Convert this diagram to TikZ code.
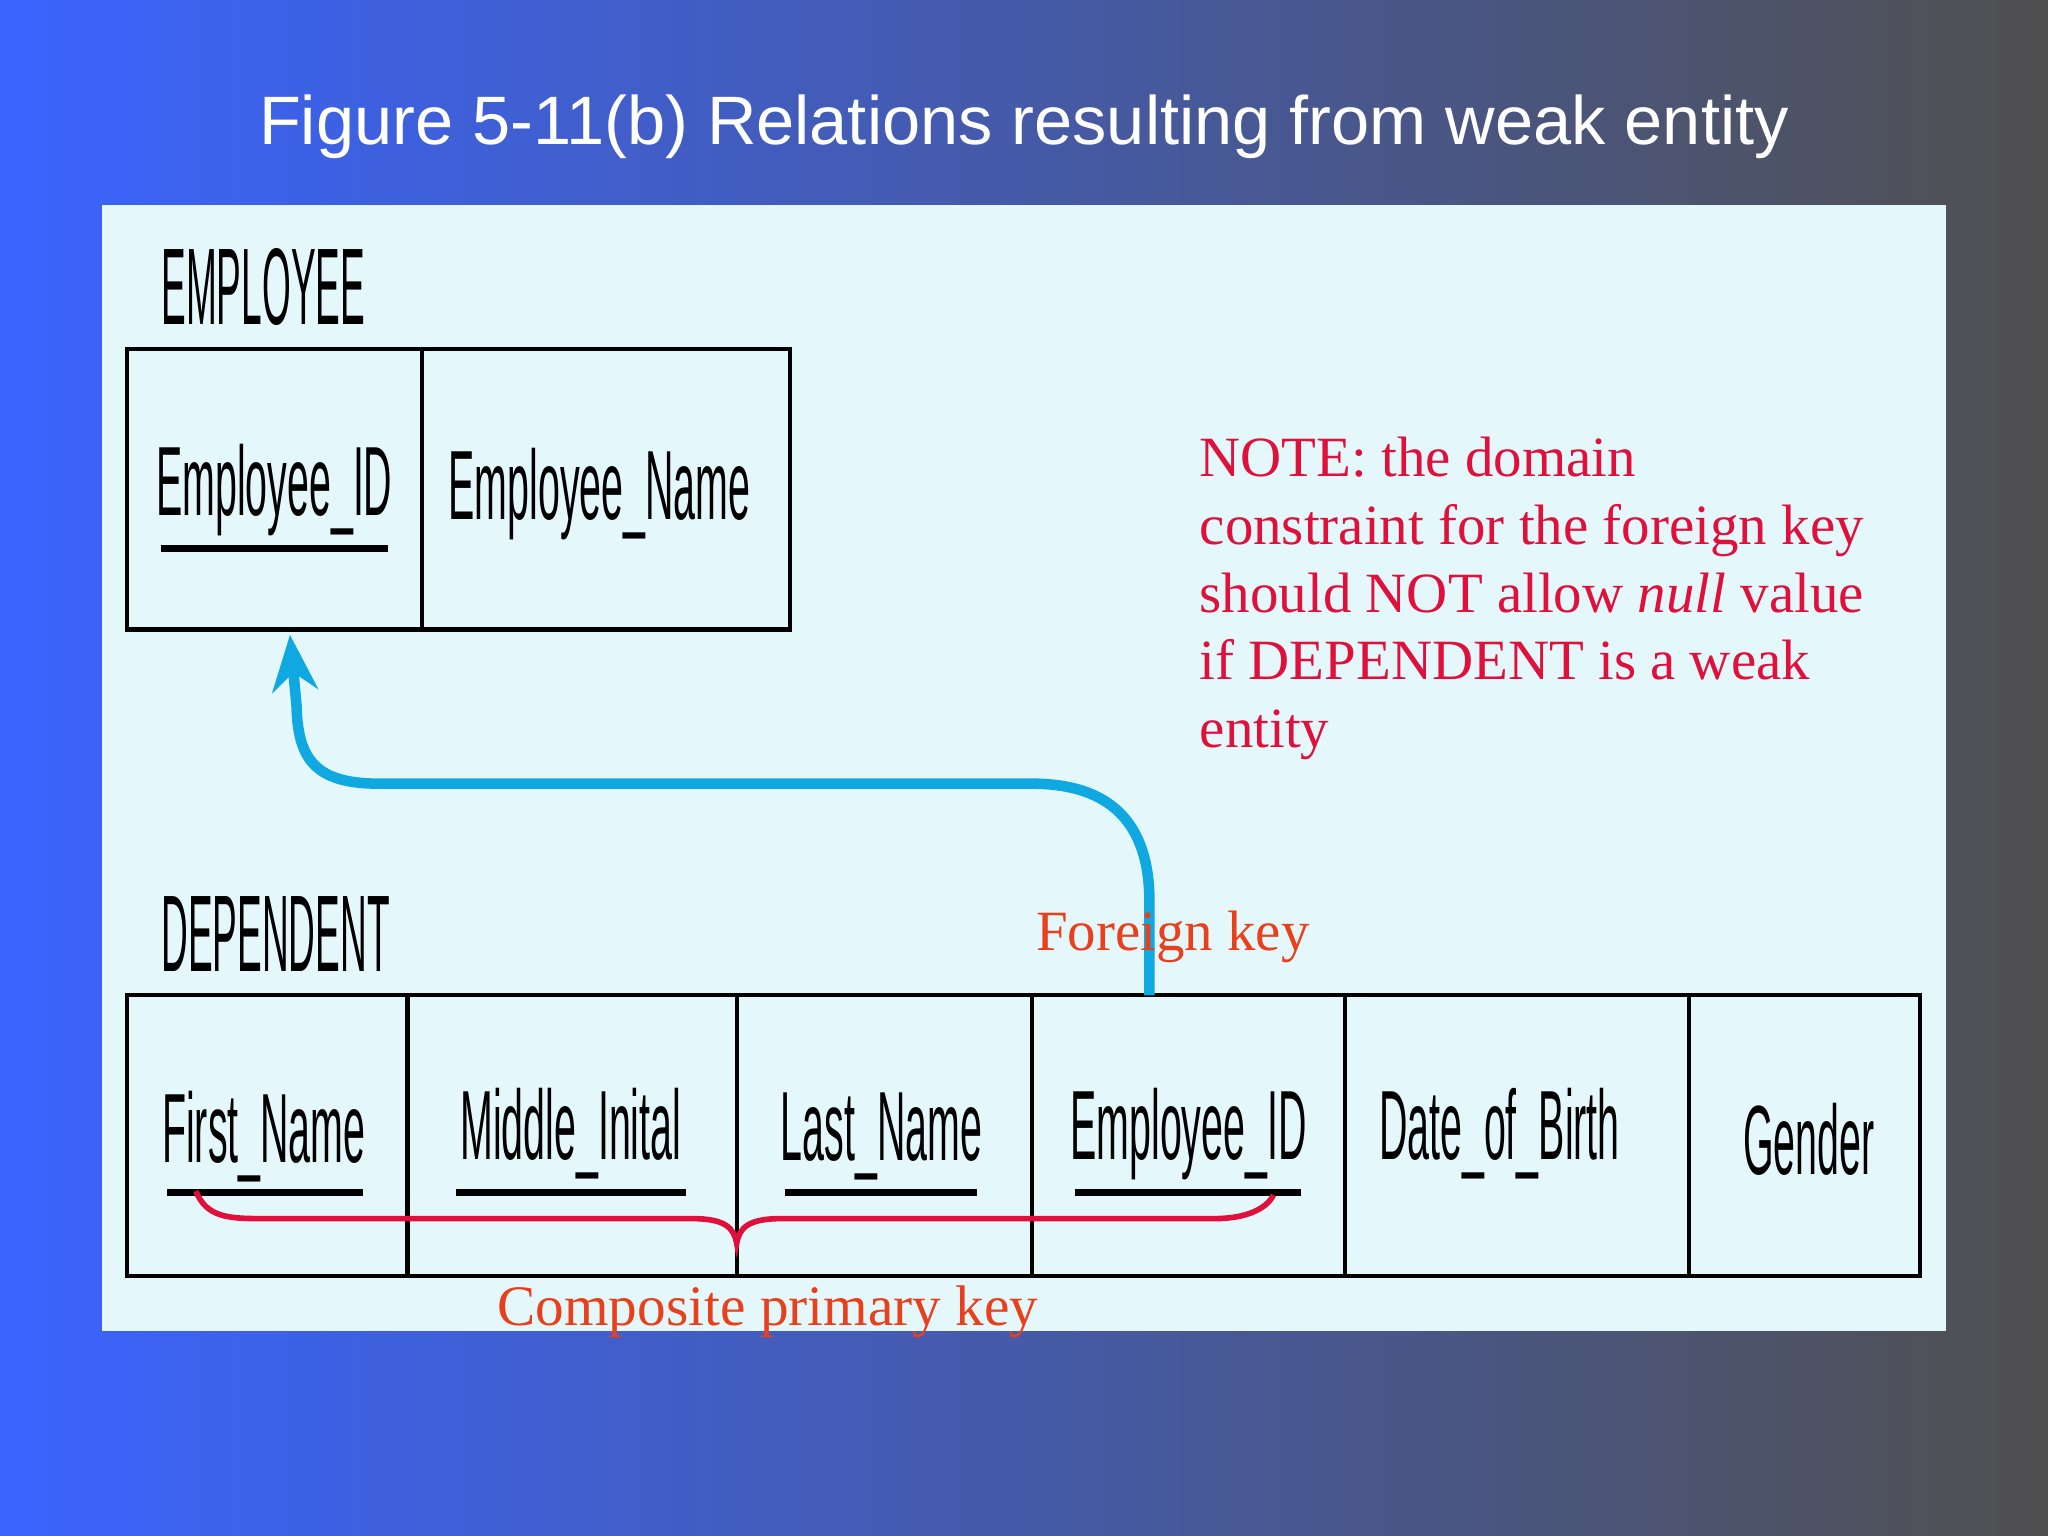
\documentclass[tikz,border=0pt]{standalone}
\usepackage{fontspec}
\setmainfont{Liberation Serif}
\newfontfamily\ttl{Liberation Sans}
\usepackage{graphicx}
\usetikzlibrary{arrows.meta}
\definecolor{panel}{HTML}{E4F8FC}
\definecolor{fk}{HTML}{10A8E0}
\definecolor{lab}{HTML}{E8401C}
\definecolor{note}{HTML}{E0103C}
\newcommand{\cnd}[3]{\scalebox{#1}[1]{\ttl\fontsize{#2}{#2}\selectfont #3}}
\tikzset{cell/.style={draw=black,line width=1.2pt},
  ul/.style={line width=1.8pt},
  ctext/.style={inner sep=0pt,anchor=center}}
\begin{document}
\begin{tikzpicture}[x=0.01306cm,y=-0.01306cm]
\useasboundingbox (0,0) rectangle (1568,1176);
\shade[left color={rgb,255:red,58;green,100;blue,255},right color={rgb,255:red,80;green,80;blue,80}] (0,0) rectangle (1568,1176);
\node[text=white,font=\ttl\fontsize{19.5}{21}\selectfont] (title) at (784,97) {Figure 5-11(b) Relations resulting from weak entity};
\fill[panel] (78,157) rectangle (1490,1019);
% EMPLOYEE
\node[anchor=west,inner sep=0pt] (emp) at (123,220) {\cnd{0.34}{31}{EMPLOYEE}};
\draw[cell] (97,267) rectangle (605,482);
\draw[cell] (323,267) -- (323,482);
\node[ctext] (eid) at (210,375) {\cnd{0.40}{28}{Employee\_ID}};
\node[ctext] (ename) at (459,378) {\cnd{0.40}{28}{Employee\_Name}};
\draw[ul] (123,420) -- (297,420);
% DEPENDENT
\node[anchor=west,inner sep=0pt] (dep) at (123,715) {\cnd{0.34}{31}{DEPENDENT}};
\draw[cell] (97,762) rectangle (1470,977);
\foreach \x in {312,564,790,1030,1293} \draw[cell] (\x,762) -- (\x,977);
\node[ctext] (fn) at (202,870) {\cnd{0.40}{28}{First\_Name}};
\node[ctext] (mi) at (437,868) {\cnd{0.40}{28}{Middle\_Inital}};
\node[ctext] (ln) at (675,870) {\cnd{0.40}{28}{Last\_Name}};
\node[ctext] (deid) at (910,868) {\cnd{0.40}{28}{Employee\_ID}};
\node[ctext] (dob) at (1148,868) {\cnd{0.40}{28}{Date\_of\_Birth}};
\node[ctext] (gen) at (1385,872) {\cnd{0.40}{28}{Gender}};
\draw[ul] (128,913) -- (278,913);
\draw[ul] (349,913) -- (525,913);
\draw[ul] (601,913) -- (748,913);
\draw[ul] (823,913) -- (996,913);
% FK arrow
\coordinate (fkstart) at (880,762);
\coordinate (fkend) at (222,486);
\draw[fk,line width=3pt,-{Stealth[length=16pt,width=13pt]}] (fkstart) -- (880,690) .. controls (880,630) and (850,600) .. (790,600) -- (290,600) .. controls (240,600) and (228,580) .. (227,540) -- (fkend);
\node[text=lab,font=\fontsize{16.2}{18}\selectfont] (fklab) at (898,717) {Foreign key};
% brace
\draw[note,line width=1.6pt] (150,912) .. controls (158,932) and (175,933) .. (200,933) -- (530,933) .. controls (555,933) and (562,940) .. (564,952) .. controls (566,940) and (573,933) .. (598,933) -- (930,933) .. controls (955,933) and (970,925) .. (975,915);
\node[text=lab,font=\fontsize{16.3}{18}\selectfont] (cpk) at (588,1004) {Composite primary key};
% note
\node[text=note,anchor=north west,align=left,inner sep=0pt,font=\fontsize{16.2}{19.3}\selectfont] (nt) at (918,334) {NOTE: the domain\\constraint for the foreign key\\should NOT allow \textit{null} value\\if DEPENDENT is a weak\\entity};
\end{tikzpicture}
\end{document}
